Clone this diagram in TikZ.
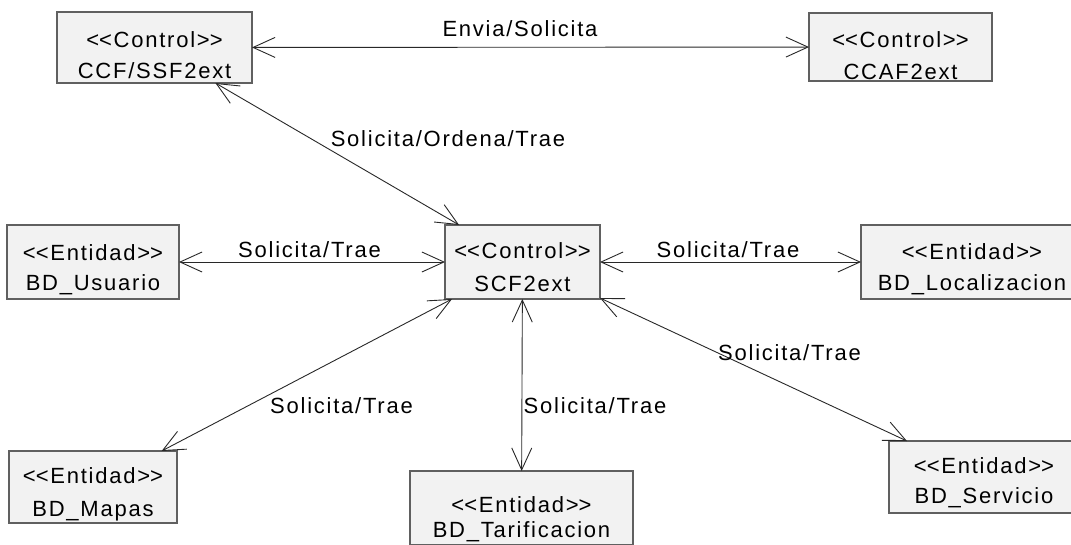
\documentclass[tikz,border=0pt]{standalone}
\usepackage{fontspec}
\setmainfont{Liberation Sans}[LetterSpace=8]
\usetikzlibrary{arrows.meta}
\definecolor{boxfill}{RGB}{242,242,242}
\definecolor{boxline}{RGB}{96,96,96}
\definecolor{wire}{RGB}{40,40,40}
\tikzset{
  classbox/.style={draw=boxline, fill=boxfill, line width=1.3pt, rectangle,
    inner sep=0pt, outer sep=0pt},
  classtext/.style={anchor=base, inner sep=0pt, font=\fontsize{22}{26}\selectfont},
  assoclabel/.style={classtext},
  assoc/.style={draw=wire, line width=0.9pt, {Straight Barb[length=22pt,width=20pt]}-{Straight Barb[length=22pt,width=20pt]}}
}
% stereotype in plain angle brackets (kerns keep << and >> from turning into guillemets)
\newcommand{\stereo}[1]{<\kern0pt<#1>\kern0pt>}
% class box: name, left, top, right, bottom, baseline 1, baseline 2, stereotype, name text
\newcommand{\umlclass}[9]{%
  \node[classbox, minimum width={(#4-#2)*1pt}, minimum height={(#5-#3)*1pt}]
    (#1) at ({(#2+#4)/2},{(#3+#5)/2}) {};
  \node[classtext] (#1-st) at ({(#2+#4)/2},#6) {\stereo{#8}};
  \node[classtext] (#1-nm) at ({(#2+#4)/2},#7) {#9};
}
\begin{document}
\begin{tikzpicture}[x=1pt,y=-1pt]
  \clip (0,0) rectangle (1071,544);
  \fill[white] (0,0) rectangle (1071,544);

  \umlclass{ccf}{57}{12}{252}{83}{47}{78}{Control}{CCF/SSF2ext}
  \umlclass{ccaf}{809}{13}{992}{81}{47}{79}{Control}{CCAF2ext}
  \umlclass{usr}{7}{225}{179}{299}{260}{290}{Entidad}{BD\_Usuario}
  \umlclass{scf}{445}{225}{600}{299}{258}{291}{Control}{SCF2ext}
  \umlclass{loc}{861}{225}{1083}{299}{259}{290}{Entidad}{BD\_Localizacion}
  \umlclass{map}{9}{451}{177}{523}{483}{516}{Entidad}{BD\_Mapas}
  \umlclass{tar}{410}{471}{633}{545}{512}{537}{Entidad}{BD\_Tarificacion}
  \umlclass{srv}{889}{441}{1079}{513}{473}{503}{Entidad}{BD\_Servicio}

  % associations
  \draw[assoc] (ccf) -- (ccaf);
  \draw[assoc] (ccf) -- (scf);
  \draw[assoc] (usr) -- (scf);
  \draw[assoc] (scf) -- (loc);
  \draw[assoc] (scf) -- (map);
  \draw[assoc] (scf) -- (tar);
  \draw[assoc] (scf) -- (srv);

  % association labels
  \node[assoclabel] (l1) at (520,36) {Envia/Solicita};
  \node[assoclabel] (l2) at (448,146) {Solicita/Ordena/Trae};
  \node[assoclabel] (l3) at (309.5,257) {Solicita/Trae};
  \node[assoclabel] (l4) at (728,257) {Solicita/Trae};
  \node[assoclabel] (l5) at (341.5,413) {Solicita/Trae};
  \node[assoclabel] (l6) at (595,413) {Solicita/Trae};
  \node[assoclabel] (l7) at (789.5,360) {Solicita/Trae};
\end{tikzpicture}
\end{document}
